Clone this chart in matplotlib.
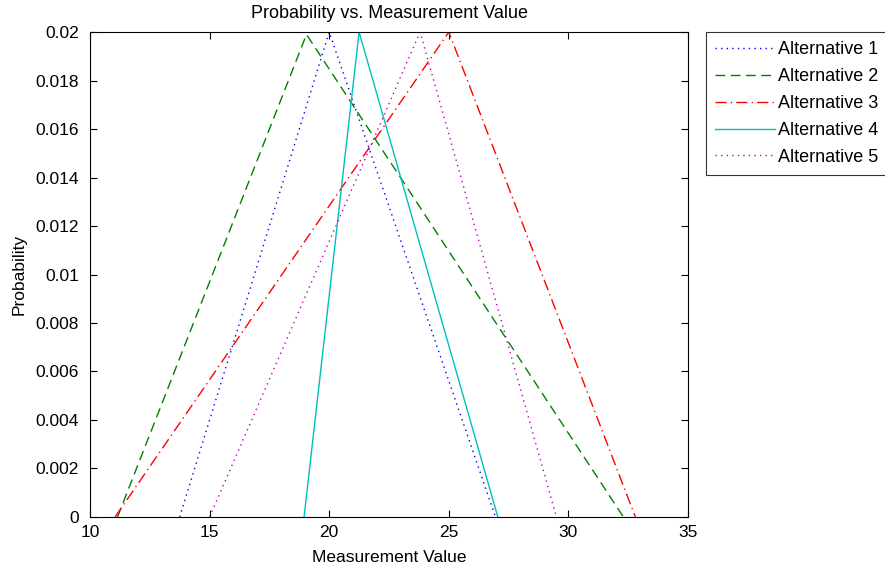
import matplotlib
matplotlib.use('Agg')
import matplotlib.pyplot as plt

plt.rcParams['font.family'] = ['Liberation Sans', 'DejaVu Sans']

# triangle distributions: (start, peak, end) and peak height
names = ['Alternative 1', 'Alternative 2', 'Alternative 3', 'Alternative 4', 'Alternative 5']
x_pts = [
    [13.75, 20.0, 26.95],
    [11.15, 19.05, 32.3],
    [11.05, 25.0, 32.8],
    [18.95, 21.25, 27.05],
    [15.0, 23.8, 29.5],
]
y_pts = [
    [0, 0.02, 0],
    [0, 0.0199, 0],
    [0, 0.02, 0],
    [0, 0.02, 0],
    [0, 0.02, 0],
]
colors = ['#0000ff', '#008000', '#ff0000', '#00bfbf', '#bf00bf']
styles = [(0, (1, 3)), (0, (7, 4)), (0, (8, 3, 1, 3)), '-', (0, (1, 3))]

fig = plt.figure(figsize=(8.85, 5.72), dpi=100)
ax = fig.add_axes([0.1017, 0.0962, 0.6757, 0.8478])

for xs, ys, c, ls, n in zip(x_pts, y_pts, colors, styles, names):
    ax.plot(xs, ys, color=c, linestyle=ls, linewidth=1, label=n)

ax.set_xlim(10, 35)
ax.set_ylim(0, 0.02)
ax.set_xticks([10, 15, 20, 25, 30, 35])
ax.set_yticks([i * 0.002 for i in range(11)])
ax.set_yticklabels(['0'] + ['%g' % (i * 0.002) for i in range(1, 11)])
ax.tick_params(direction='in', top=True, right=True, labelsize=12.5, length=5)
ax.tick_params(axis='y', pad=8)
ax.tick_params(axis='x', pad=6)
for s in ax.spines.values():
    s.set_linewidth(0.8)

ax.set_xlabel('Measurement Value', fontsize=12.5, labelpad=7)
ax.set_ylabel('Probability', fontsize=12.5, labelpad=6)
ax.set_title('Probability vs. Measurement Value', fontsize=13, pad=10)

leg = ax.legend(loc='upper left', bbox_to_anchor=(1.03, 1.0), fontsize=13,
                frameon=True, fancybox=False, handlelength=3.3, borderpad=0.5,
                labelspacing=0.55, handletextpad=0.2, borderaxespad=0)
leg.get_frame().set_edgecolor('black')
leg.get_frame().set_linewidth(0.8)

fig.savefig('out.png', dpi=100)
